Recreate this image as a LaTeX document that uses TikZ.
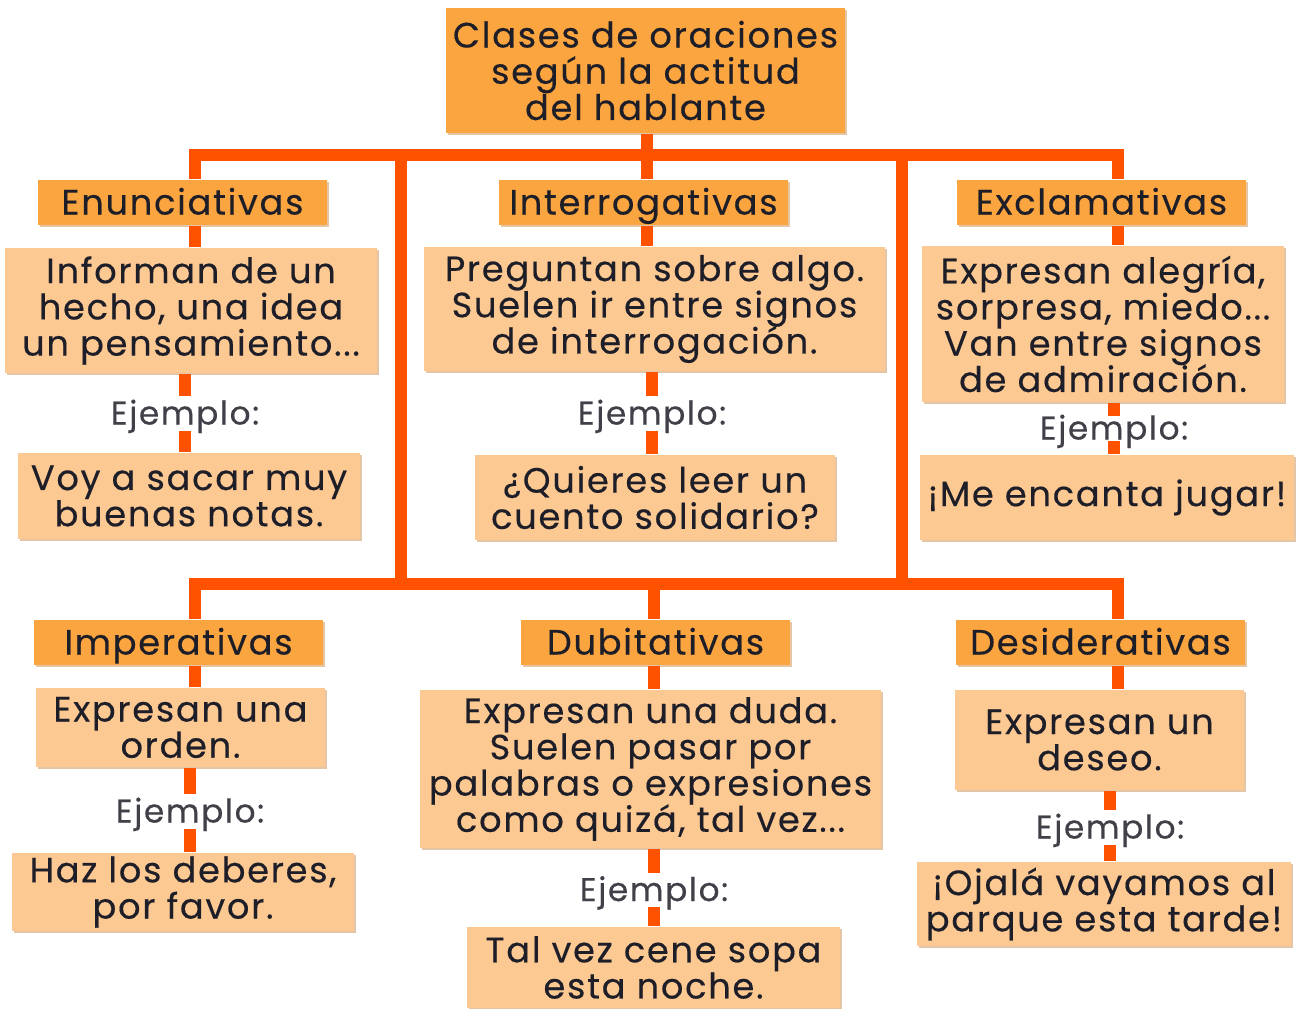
\documentclass[tikz,border=0pt]{standalone}
\usepackage{fontspec}
\setmainfont{Poppins}[FakeBold=0.4, LetterSpace=5]
\usetikzlibrary{positioning,shadows}
\definecolor{linea}{HTML}{FF5200}
\definecolor{titulo}{HTML}{FBA540}
\definecolor{cuadro}{HTML}{FDC993}
\definecolor{letra}{HTML}{1E1E28}
\tikzset{
  sombra/.style={drop shadow={shadow xshift=0.5pt, shadow yshift=-0.6pt, opacity=0.35, fill=orange!70!black}},
  cab/.style={fill=titulo, text=letra, inner sep=0pt, align=center, sombra,
    font={\fontsize{10}{10.3}\selectfont\lineskiplimit=-20pt\relax}},
  tipo/.style={cab, minimum height=0.45cm, text height=0.3cm, text depth=0.06cm},
  cuad/.style={fill=cuadro, text=letra, inner sep=0pt, align=center, sombra,
    font={\fontsize{10}{10.3}\selectfont\lineskiplimit=-20pt\relax}},
  ejem/.style={text=letra!85, inner xsep=0pt, inner ysep=0.015cm, text height=0.26cm, text depth=0.04cm,
    font=\fontsize{9.3}{10}\selectfont},
  bus/.style={draw=linea, line width=3.5pt, line join=miter}
}
\begin{document}
\begin{tikzpicture}[x=0.01cm, y=-0.01cm]
  \useasboundingbox (0,0) rectangle (1299,1008);
  % titulo
  \node[cab, minimum width=3.99cm, minimum height=1.25cm] (tit) at (645.5,70.5)
    {Clases de oraciones\\según la actitud\\del hablante};
  % fila de arriba
  \node[tipo, minimum width=2.89cm] (enh) at (182.5,202.5) {Enunciativas};
  \node[tipo, minimum width=2.89cm] (inh) at (643.5,202.5) {Interrogativas};
  \node[tipo, minimum width=2.89cm] (exh) at (1101.5,202.5) {Exclamativas};
  \node[cuad, minimum width=3.72cm, minimum height=1.25cm] (enc) at (191,310.5)
    {Informan de un\\hecho, una idea\\un pensamiento...};
  \node[cuad, minimum width=4.61cm, minimum height=1.24cm] (inc) at (654.5,309)
    {Preguntan sobre algo.\\Suelen ir entre signos\\de interrogación.};
  \node[cuad, minimum width=3.62cm, minimum height=1.56cm] (exc) at (1103,324)
    {Expresan alegría,\\sorpresa, miedo...\\Van entre signos\\de admiración.};
  \node[ejem] (enj) at (185,413.5) {Ejemplo:};
  \node[ejem] (inj) at (652,413.5) {Ejemplo:};
  \node[ejem, inner ysep=0pt, text height=0.23cm, text depth=0.01cm] (exj) at (1114,428.5) {Ejemplo:};
  \node[cuad, minimum width=3.42cm, minimum height=0.86cm] (enx) at (189,496)
    {Voy a sacar muy\\buenas notas.};
  \node[cuad, minimum width=3.60cm, minimum height=0.85cm] (inx) at (655,497.5)
    {¿Quieres leer un\\cuento solidario?};
  \node[cuad, minimum width=3.74cm, minimum height=0.85cm] (exx) at (1107,497.5)
    {¡Me encanta jugar!};
  % fila de abajo
  \node[tipo, minimum width=2.89cm] (imh) at (178.5,642.5) {Imperativas};
  \node[tipo, minimum width=2.69cm] (duh) at (655.5,642.5) {Dubitativas};
  \node[tipo, minimum width=2.89cm] (deh) at (1100.5,642.5) {Desiderativas};
  \node[cuad, minimum width=2.89cm, minimum height=0.79cm] (imc) at (180.5,727.5)
    {Expresan una\\orden.};
  \node[cuad, minimum width=4.61cm, minimum height=1.58cm] (duc) at (650.5,769)
    {Expresan una duda.\\Suelen pasar por\\palabras o expresiones\\como quizá, tal vez...};
  \node[cuad, minimum width=2.89cm, minimum height=1.00cm] (dec) at (1099.5,740)
    {Expresan un\\deseo.};
  \node[ejem] (imj) at (190,811.5) {Ejemplo:};
  \node[ejem] (duj) at (654,890) {Ejemplo:};
  \node[ejem] (dej) at (1110,827.5) {Ejemplo:};
  \node[cuad, minimum width=3.42cm, minimum height=0.78cm] (imx) at (183,892)
    {Haz los deberes,\\por favor.};
  \node[cuad, minimum width=3.73cm, minimum height=0.81cm] (dux) at (653.5,967.5)
    {Tal vez cene sopa\\esta noche.};
  \node[cuad, minimum width=3.74cm, minimum height=0.84cm] (dex) at (1104,904)
    {¡Ojalá vayamos al\\parque esta tarde!};
  % lineas
  \coordinate (tm) at (647,155); \coordinate (tl) at (195,155); \coordinate (tr) at (1118,155);
  \coordinate (bm) at (654,584); \coordinate (bl) at (195,584); \coordinate (br) at (1118,584);
  \coordinate (vl) at (401,155); \coordinate (vr) at (902,155);
  \draw[bus] (tit.south -| tm) -- (tm);
  \draw[bus] (enh.north -| tl) -- (tl) -- (tr) -- (exh.north -| tr);
  \draw[bus] (inh.north -| tm) -- (tm);
  \draw[bus] (vl) -- (vl |- bl);
  \draw[bus] (vr) -- (vr |- br);
  \draw[bus] (imh.north -| bl) -- (bl) -- (br) -- (deh.north -| br);
  \draw[bus] (duh.north -| bm) -- (bm);
  \draw[bus] (enh.south -| tl) -- (enc.north -| tl);
  \draw[bus] (inh.south -| tm) -- (inc.north -| tm);
  \draw[bus] (exh.south -| tr) -- (exc.north -| tr);
  \draw[bus] (imh.south -| bl) -- (imc.north -| bl);
  \draw[bus] (duh.south -| bm) -- (duc.north -| bm);
  \draw[bus] (deh.south -| br) -- (dec.north -| br);
  \foreach \c/\j/\x in {enc/enj/enx, inc/inj/inx, exc/exj/exx, imc/imj/imx, duc/duj/dux, dec/dej/dex}{
    \draw[bus] (\c.south -| \j.north) -- (\j.north);
    \draw[bus] (\j.south) -- (\x.north -| \j.south);
  }
\end{tikzpicture}
\end{document}
